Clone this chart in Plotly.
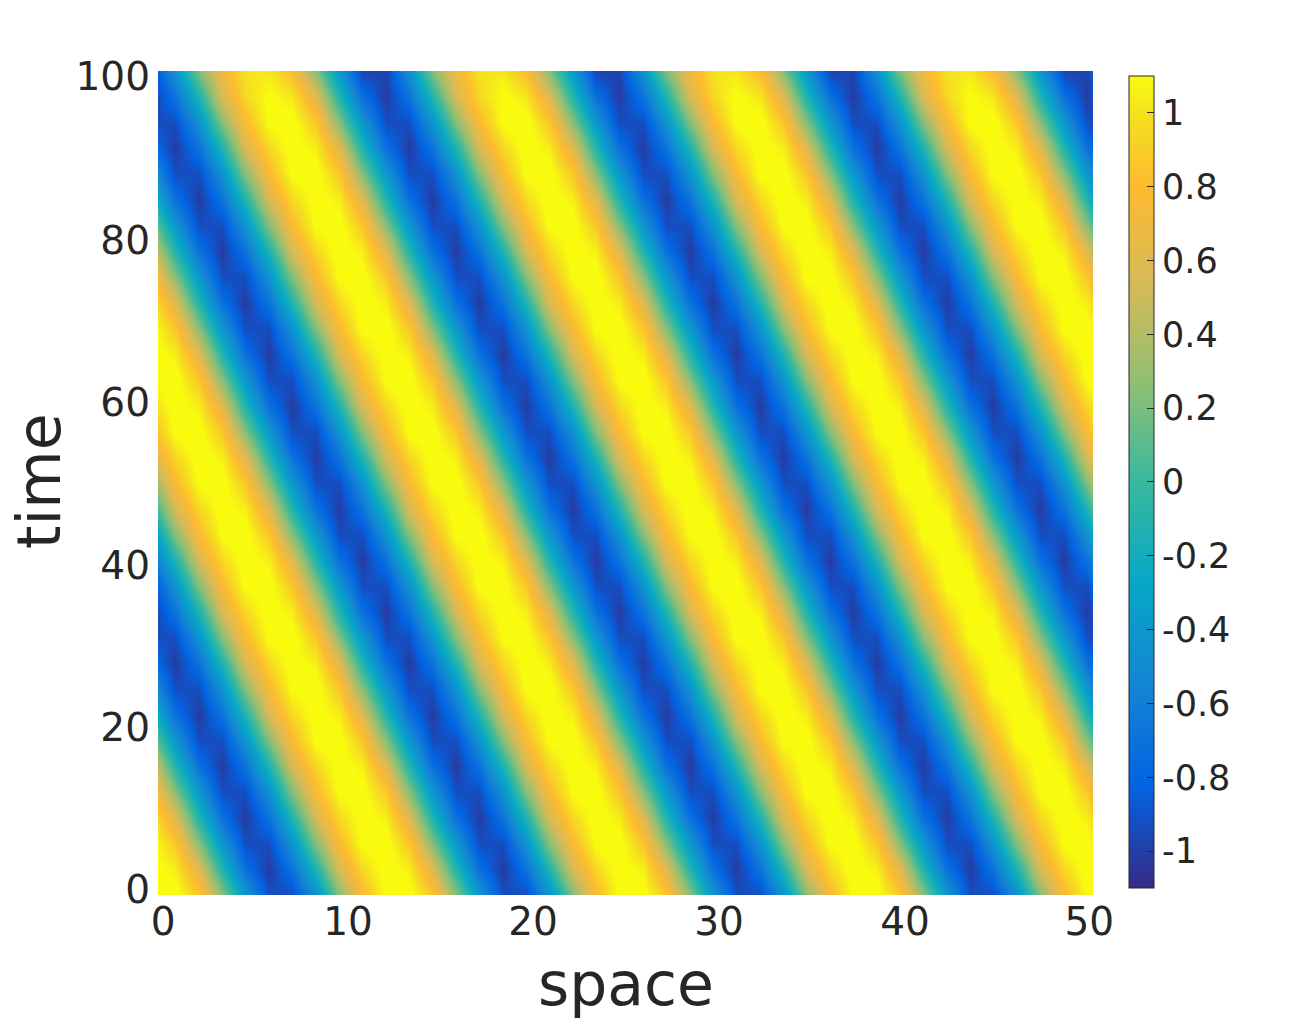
"""
Travelling wave in space and time, drawn as a heatmap
"""
import plotly.graph_objects as go

# grid; a stripe moves left by half a column per row
space = [-0.325, 0.925, 2.175, 3.425, 4.675, 5.925, 7.175, 8.425, 9.675, 10.925, 12.175, 13.425,
         14.675, 15.925, 17.175, 18.425, 19.675, 20.925, 22.175, 23.425, 24.675, 25.925, 27.175,
         28.425, 29.675, 30.925, 32.175, 33.425, 34.675, 35.925, 37.175, 38.425, 39.675, 40.925,
         42.175, 43.425, 44.675, 45.925, 47.175, 48.425, 49.675, 50.925]
time = [0, 3.125, 6.25, 9.375, 12.5, 15.625, 18.75, 21.875, 25, 28.125, 31.25, 34.375, 37.5,
        40.625, 43.75, 46.875, 50, 53.125, 56.25, 59.375, 62.5, 65.625, 68.75, 71.875, 75,
        78.125, 81.25, 84.375, 87.5, 90.625, 93.75, 96.875, 100]

r00 = [1.12, 1.15, .87, .25, -.4, -.93, -.93, -.45, .23, .77, 1.12, 1.15, .87, .25, -.4, -.93, -.93, -.45, .23, .77, 1.12, 1.15, .87, .25, -.4, -.93, -.93, -.45, .23, .77, 1.12, 1.15, .87, .25, -.4, -.93, -.93, -.45, .23, .77, 1.12, 1.15]
r01 = [1.15, 1.05, .6, -.1, -.72, -1.02, -.7, -.12, .55, .95, 1.15, 1.05, .6, -.1, -.72, -1.02, -.7, -.12, .55, .95, 1.15, 1.05, .6, -.1, -.72, -1.02, -.7, -.12, .55, .95, 1.15, 1.05, .6, -.1, -.72, -1.02, -.7, -.12, .55, .95, 1.15, 1.05]
r02 = [1.15, .87, .25, -.4, -.93, -.93, -.45, .23, .77, 1.12, 1.15, .87, .25, -.4, -.93, -.93, -.45, .23, .77, 1.12, 1.15, .87, .25, -.4, -.93, -.93, -.45, .23, .77, 1.12, 1.15, .87, .25, -.4, -.93, -.93, -.45, .23, .77, 1.12, 1.15, .87]
r03 = [1.05, .6, -.1, -.72, -1.02, -.7, -.12, .55, .95, 1.15, 1.05, .6, -.1, -.72, -1.02, -.7, -.12, .55, .95, 1.15, 1.05, .6, -.1, -.72, -1.02, -.7, -.12, .55, .95, 1.15, 1.05, .6, -.1, -.72, -1.02, -.7, -.12, .55, .95, 1.15, 1.05, .6]
r04 = [.87, .25, -.4, -.93, -.93, -.45, .23, .77, 1.12, 1.15, .87, .25, -.4, -.93, -.93, -.45, .23, .77, 1.12, 1.15, .87, .25, -.4, -.93, -.93, -.45, .23, .77, 1.12, 1.15, .87, .25, -.4, -.93, -.93, -.45, .23, .77, 1.12, 1.15, .87, .25]
r05 = [.6, -.1, -.72, -1.02, -.7, -.12, .55, .95, 1.15, 1.05, .6, -.1, -.72, -1.02, -.7, -.12, .55, .95, 1.15, 1.05, .6, -.1, -.72, -1.02, -.7, -.12, .55, .95, 1.15, 1.05, .6, -.1, -.72, -1.02, -.7, -.12, .55, .95, 1.15, 1.05, .6, -.1]
r06 = [.25, -.4, -.93, -.93, -.45, .23, .77, 1.12, 1.15, .87, .25, -.4, -.93, -.93, -.45, .23, .77, 1.12, 1.15, .87, .25, -.4, -.93, -.93, -.45, .23, .77, 1.12, 1.15, .87, .25, -.4, -.93, -.93, -.45, .23, .77, 1.12, 1.15, .87, .25, -.4]
r07 = [-.1, -.72, -1.02, -.7, -.12, .55, .95, 1.15, 1.05, .6, -.1, -.72, -1.02, -.7, -.12, .55, .95, 1.15, 1.05, .6, -.1, -.72, -1.02, -.7, -.12, .55, .95, 1.15, 1.05, .6, -.1, -.72, -1.02, -.7, -.12, .55, .95, 1.15, 1.05, .6, -.1, -.72]
r08 = [-.4, -.93, -.93, -.45, .23, .77, 1.12, 1.15, .87, .25, -.4, -.93, -.93, -.45, .23, .77, 1.12, 1.15, .87, .25, -.4, -.93, -.93, -.45, .23, .77, 1.12, 1.15, .87, .25, -.4, -.93, -.93, -.45, .23, .77, 1.12, 1.15, .87, .25, -.4, -.93]
r09 = [-.72, -1.02, -.7, -.12, .55, .95, 1.15, 1.05, .6, -.1, -.72, -1.02, -.7, -.12, .55, .95, 1.15, 1.05, .6, -.1, -.72, -1.02, -.7, -.12, .55, .95, 1.15, 1.05, .6, -.1, -.72, -1.02, -.7, -.12, .55, .95, 1.15, 1.05, .6, -.1, -.72, -1.02]
r10 = [-.93, -.93, -.45, .23, .77, 1.12, 1.15, .87, .25, -.4, -.93, -.93, -.45, .23, .77, 1.12, 1.15, .87, .25, -.4, -.93, -.93, -.45, .23, .77, 1.12, 1.15, .87, .25, -.4, -.93, -.93, -.45, .23, .77, 1.12, 1.15, .87, .25, -.4, -.93, -.93]
r11 = [-1.02, -.7, -.12, .55, .95, 1.15, 1.05, .6, -.1, -.72, -1.02, -.7, -.12, .55, .95, 1.15, 1.05, .6, -.1, -.72, -1.02, -.7, -.12, .55, .95, 1.15, 1.05, .6, -.1, -.72, -1.02, -.7, -.12, .55, .95, 1.15, 1.05, .6, -.1, -.72, -1.02, -.7]
r12 = [-.93, -.45, .23, .77, 1.12, 1.15, .87, .25, -.4, -.93, -.93, -.45, .23, .77, 1.12, 1.15, .87, .25, -.4, -.93, -.93, -.45, .23, .77, 1.12, 1.15, .87, .25, -.4, -.93, -.93, -.45, .23, .77, 1.12, 1.15, .87, .25, -.4, -.93, -.93, -.45]
r13 = [-.7, -.12, .55, .95, 1.15, 1.05, .6, -.1, -.72, -1.02, -.7, -.12, .55, .95, 1.15, 1.05, .6, -.1, -.72, -1.02, -.7, -.12, .55, .95, 1.15, 1.05, .6, -.1, -.72, -1.02, -.7, -.12, .55, .95, 1.15, 1.05, .6, -.1, -.72, -1.02, -.7, -.12]
r14 = [-.45, .23, .77, 1.12, 1.15, .87, .25, -.4, -.93, -.93, -.45, .23, .77, 1.12, 1.15, .87, .25, -.4, -.93, -.93, -.45, .23, .77, 1.12, 1.15, .87, .25, -.4, -.93, -.93, -.45, .23, .77, 1.12, 1.15, .87, .25, -.4, -.93, -.93, -.45, .23]
r15 = [-.12, .55, .95, 1.15, 1.05, .6, -.1, -.72, -1.02, -.7, -.12, .55, .95, 1.15, 1.05, .6, -.1, -.72, -1.02, -.7, -.12, .55, .95, 1.15, 1.05, .6, -.1, -.72, -1.02, -.7, -.12, .55, .95, 1.15, 1.05, .6, -.1, -.72, -1.02, -.7, -.12, .55]
r16 = [.23, .77, 1.12, 1.15, .87, .25, -.4, -.93, -.93, -.45, .23, .77, 1.12, 1.15, .87, .25, -.4, -.93, -.93, -.45, .23, .77, 1.12, 1.15, .87, .25, -.4, -.93, -.93, -.45, .23, .77, 1.12, 1.15, .87, .25, -.4, -.93, -.93, -.45, .23, .77]
r17 = [.55, .95, 1.15, 1.05, .6, -.1, -.72, -1.02, -.7, -.12, .55, .95, 1.15, 1.05, .6, -.1, -.72, -1.02, -.7, -.12, .55, .95, 1.15, 1.05, .6, -.1, -.72, -1.02, -.7, -.12, .55, .95, 1.15, 1.05, .6, -.1, -.72, -1.02, -.7, -.12, .55, .95]
r18 = [.77, 1.12, 1.15, .87, .25, -.4, -.93, -.93, -.45, .23, .77, 1.12, 1.15, .87, .25, -.4, -.93, -.93, -.45, .23, .77, 1.12, 1.15, .87, .25, -.4, -.93, -.93, -.45, .23, .77, 1.12, 1.15, .87, .25, -.4, -.93, -.93, -.45, .23, .77, 1.12]
r19 = [.95, 1.15, 1.05, .6, -.1, -.72, -1.02, -.7, -.12, .55, .95, 1.15, 1.05, .6, -.1, -.72, -1.02, -.7, -.12, .55, .95, 1.15, 1.05, .6, -.1, -.72, -1.02, -.7, -.12, .55, .95, 1.15, 1.05, .6, -.1, -.72, -1.02, -.7, -.12, .55, .95, 1.15]
r20 = [1.12, 1.15, .87, .25, -.4, -.93, -.93, -.45, .23, .77, 1.12, 1.15, .87, .25, -.4, -.93, -.93, -.45, .23, .77, 1.12, 1.15, .87, .25, -.4, -.93, -.93, -.45, .23, .77, 1.12, 1.15, .87, .25, -.4, -.93, -.93, -.45, .23, .77, 1.12, 1.15]
r21 = [1.15, 1.05, .6, -.1, -.72, -1.02, -.7, -.12, .55, .95, 1.15, 1.05, .6, -.1, -.72, -1.02, -.7, -.12, .55, .95, 1.15, 1.05, .6, -.1, -.72, -1.02, -.7, -.12, .55, .95, 1.15, 1.05, .6, -.1, -.72, -1.02, -.7, -.12, .55, .95, 1.15, 1.05]
r22 = [1.15, .87, .25, -.4, -.93, -.93, -.45, .23, .77, 1.12, 1.15, .87, .25, -.4, -.93, -.93, -.45, .23, .77, 1.12, 1.15, .87, .25, -.4, -.93, -.93, -.45, .23, .77, 1.12, 1.15, .87, .25, -.4, -.93, -.93, -.45, .23, .77, 1.12, 1.15, .87]
r23 = [1.05, .6, -.1, -.72, -1.02, -.7, -.12, .55, .95, 1.15, 1.05, .6, -.1, -.72, -1.02, -.7, -.12, .55, .95, 1.15, 1.05, .6, -.1, -.72, -1.02, -.7, -.12, .55, .95, 1.15, 1.05, .6, -.1, -.72, -1.02, -.7, -.12, .55, .95, 1.15, 1.05, .6]
r24 = [.87, .25, -.4, -.93, -.93, -.45, .23, .77, 1.12, 1.15, .87, .25, -.4, -.93, -.93, -.45, .23, .77, 1.12, 1.15, .87, .25, -.4, -.93, -.93, -.45, .23, .77, 1.12, 1.15, .87, .25, -.4, -.93, -.93, -.45, .23, .77, 1.12, 1.15, .87, .25]
r25 = [.6, -.1, -.72, -1.02, -.7, -.12, .55, .95, 1.15, 1.05, .6, -.1, -.72, -1.02, -.7, -.12, .55, .95, 1.15, 1.05, .6, -.1, -.72, -1.02, -.7, -.12, .55, .95, 1.15, 1.05, .6, -.1, -.72, -1.02, -.7, -.12, .55, .95, 1.15, 1.05, .6, -.1]
r26 = [.25, -.4, -.93, -.93, -.45, .23, .77, 1.12, 1.15, .87, .25, -.4, -.93, -.93, -.45, .23, .77, 1.12, 1.15, .87, .25, -.4, -.93, -.93, -.45, .23, .77, 1.12, 1.15, .87, .25, -.4, -.93, -.93, -.45, .23, .77, 1.12, 1.15, .87, .25, -.4]
r27 = [-.1, -.72, -1.02, -.7, -.12, .55, .95, 1.15, 1.05, .6, -.1, -.72, -1.02, -.7, -.12, .55, .95, 1.15, 1.05, .6, -.1, -.72, -1.02, -.7, -.12, .55, .95, 1.15, 1.05, .6, -.1, -.72, -1.02, -.7, -.12, .55, .95, 1.15, 1.05, .6, -.1, -.72]
r28 = [-.4, -.93, -.93, -.45, .23, .77, 1.12, 1.15, .87, .25, -.4, -.93, -.93, -.45, .23, .77, 1.12, 1.15, .87, .25, -.4, -.93, -.93, -.45, .23, .77, 1.12, 1.15, .87, .25, -.4, -.93, -.93, -.45, .23, .77, 1.12, 1.15, .87, .25, -.4, -.93]
r29 = [-.72, -1.02, -.7, -.12, .55, .95, 1.15, 1.05, .6, -.1, -.72, -1.02, -.7, -.12, .55, .95, 1.15, 1.05, .6, -.1, -.72, -1.02, -.7, -.12, .55, .95, 1.15, 1.05, .6, -.1, -.72, -1.02, -.7, -.12, .55, .95, 1.15, 1.05, .6, -.1, -.72, -1.02]
r30 = [-.93, -.93, -.45, .23, .77, 1.12, 1.15, .87, .25, -.4, -.93, -.93, -.45, .23, .77, 1.12, 1.15, .87, .25, -.4, -.93, -.93, -.45, .23, .77, 1.12, 1.15, .87, .25, -.4, -.93, -.93, -.45, .23, .77, 1.12, 1.15, .87, .25, -.4, -.93, -.93]
r31 = [-1.02, -.7, -.12, .55, .95, 1.12, 1.02, .6, -.1, -.72, -1.02, -.7, -.12, .55, .95, 1.12, 1.02, .6, -.1, -.72, -1.02, -.7, -.12, .55, .95, 1.12, 1.02, .6, -.1, -.72, -1.02, -.7, -.12, .55, .95, 1.12, 1.02, .6, -.1, -.72, -1.02, -.7]
r32 = [-.98, -.45, .22, .72, 1.0, 1.02, .8, .24, -.4, -.98, -.98, -.45, .22, .72, 1.0, 1.02, .8, .24, -.4, -.98, -.98, -.45, .22, .72, 1.0, 1.02, .8, .24, -.4, -.98, -.98, -.45, .22, .72, 1.0, 1.02, .8, .24, -.4, -.98, -.98, -.45]
wave = [r00, r01, r02, r03, r04, r05, r06, r07, r08, r09, r10, r11, r12, r13, r14, r15, r16,
        r17, r18, r19, r20, r21, r22, r23, r24, r25, r26, r27, r28, r29, r30, r31, r32]

# tick labels sit a little inside the plot ends, as in the picture
x_ticks = [0.27, 10.16, 20.05, 30, 39.95, 49.8]
x_labels = ['0', '10', '20', '30', '40', '50']
y_ticks = [0.7, 20.4, 40, 59.8, 79.5, 99.4]
y_labels = ['0', '20', '40', '60', '80', '100']
bar_ticks = [-1, -.8, -.6, -.4, -.2, 0, .2, .4, .6, .8, 1]
bar_labels = ['-1', '-0.8', '-0.6', '-0.4', '-0.2', '0', '0.2', '0.4', '0.6', '0.8', '1']

parula = [[0, '#352a87'], [.125, '#0363e1'], [.25, '#1485d4'], [.375, '#06a7c6'],
          [.5, '#38b99e'], [.625, '#92bf73'], [.75, '#d9ba56'], [.865, '#fdbb2f'],
          [.95, '#f5e01f'], [1, '#f9fb0e']]
dark = '#262626'

fig = go.Figure(go.Heatmap(
    x=space, y=time, z=wave, zsmooth='best', zmin=-1.1, zmax=1.1, colorscale=parula,
    colorbar=dict(x=1.0385, xanchor='left', xpad=0, y=0.0085, yanchor='bottom', ypad=0,
                  len=0.9854, thickness=25, outlinewidth=1, outlinecolor=dark,
                  tickmode='array', tickvals=bar_ticks, ticktext=bar_labels,
                  ticks='inside', ticklen=7, tickwidth=1, tickcolor=dark,
                  tickfont=dict(size=35, color=dark))))

fig.update_xaxes(range=[0, 50], tickvals=x_ticks, ticktext=x_labels, ticks='', showgrid=False,
                 zeroline=False, tickfont=dict(size=39, color=dark))
fig.update_yaxes(range=[0, 100], tickvals=y_ticks, ticktext=y_labels, ticks='', showgrid=False,
                 zeroline=False, ticklabelstandoff=7, tickfont=dict(size=39, color=dark))
# axis titles as annotations, standoff does nothing with fixed margins
fig.add_annotation(text='space', xref='paper', yref='paper', x=0.5, y=-0.0631, xanchor='center',
                   yanchor='top', showarrow=False, font=dict(size=60, color=dark))
fig.add_annotation(text='time', xref='paper', yref='paper', x=-0.1273, y=0.5024, xanchor='center',
                   yanchor='middle', textangle=-90, showarrow=False,
                   font=dict(size=60, color=dark))
fig.update_layout(width=1288, height=1012, paper_bgcolor='white', plot_bgcolor='white',
                  font=dict(family='DejaVu Sans', color=dark),
                  margin=dict(l=150, r=203, t=63, b=125, autoexpand=False))

fig.write_html("out.html")
